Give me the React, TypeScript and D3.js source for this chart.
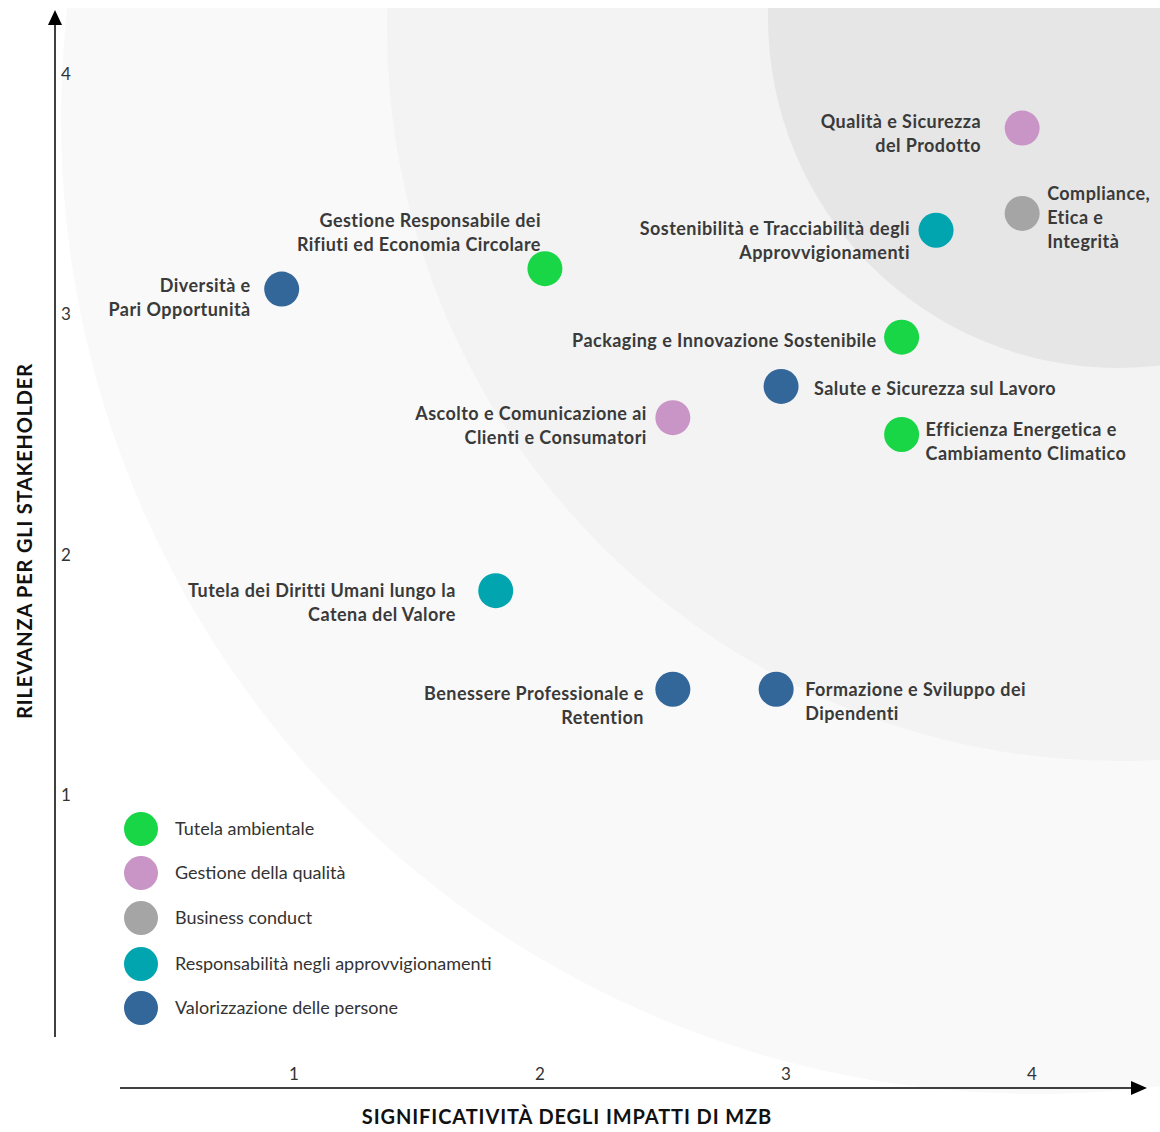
import React from "react";
import * as d3 from "d3";

// ---- data ----
const categories = [
  "Tutela ambientale",
  "Gestione della qualità",
  "Business conduct",
  "Responsabilità negli approvvigionamenti",
  "Valorizzazione delle persone",
];
const categoryColors = ["#19d646", "#c994c6", "#a5a5a5", "#00a5b0", "#336699"];

const topicNames = [
  ["Qualità e Sicurezza", "del Prodotto"],
  ["Compliance,", "Etica e", "Integrità"],
  ["Sostenibilità e Tracciabilità degli", "Approvvigionamenti"],
  ["Gestione Responsabile dei", "Rifiuti ed Economia Circolare"],
  ["Diversità e", "Pari Opportunità"],
  ["Packaging e Innovazione Sostenibile"],
  ["Salute e Sicurezza sul Lavoro"],
  ["Ascolto e Comunicazione ai", "Clienti e Consumatori"],
  ["Efficienza Energetica e", "Cambiamento Climatico"],
  ["Tutela dei Diritti Umani lungo la", "Catena del Valore"],
  ["Benessere Professionale e", "Retention"],
  ["Formazione e Sviluppo dei", "Dipendenti"],
];
const topicCategory = [1, 2, 3, 0, 4, 0, 4, 1, 0, 3, 4, 4];
const impactValues = [3.96, 3.96, 3.61, 2.02, 0.95, 3.47, 2.98, 2.54, 3.47, 1.82, 2.54, 2.96];
const stakeholderValues = [3.775, 3.42, 3.35, 3.19, 3.105, 2.905, 2.7, 2.57, 2.5, 1.85, 1.44, 1.44];

const xTicks = [1, 2, 3, 4];
const yTicks = [1, 2, 3, 4];

const xTitle = "SIGNIFICATIVITÀ DEGLI IMPATTI DI MZB";
const yTitle = "RILEVANZA PER GLI STAKEHOLDER";

// ---- layout (label placement relative to the dot) ----
const labelSide = ["L", "R", "L", "L", "L", "L", "R", "L", "R", "L", "L", "R"];
const labelDx = [-41, 25, -26, -4, -31, -25, 33, -26, 24, -40, -29, 29];
const labelDy = [-6, -20, -2, -48, -3, 4, 2, -4, -5, 0, 4, 0];

const W = 1160;
const H = 1132;
const FONT = "Lato, 'Open Sans', sans-serif";
const LINE = 24;

export default function App() {
  const x = d3.scaleLinear().domain([0, 4]).range([48, 1032]);
  const y = d3.scaleLinear().domain([0, 4]).range([1035.3, 74]);

  const zones = [
    { cx: 1036, cy: 119, r: 975, fill: "#f9f9f9" },
    { cx: 1120, cy: 28, r: 733, fill: "#f3f3f3" },
    { cx: 1118, cy: 18, r: 350, fill: "#e6e6e6" },
  ];

  const yAxisX = 55;
  const xAxisY = 1088;

  return (
    <svg
      width={W}
      height={H}
      style={{ position: "absolute", left: 0, top: 0, background: "#fff" }}
      fontFamily={FONT}
    >
      <defs>
        <clipPath id="bgclip">
          <rect x={0} y={8} width={W} height={H - 8} />
        </clipPath>
      </defs>
      <g clipPath="url(#bgclip)">
        {zones.map((z, i) => (
          <circle key={i} cx={z.cx} cy={z.cy} r={z.r} fill={z.fill} />
        ))}
      </g>

      {/* Y axis */}
      <line x1={yAxisX} x2={yAxisX} y1={22} y2={1037} stroke="#000" strokeWidth={1.5} />
      <path d={`M${yAxisX - 7},25 L${yAxisX},10 L${yAxisX + 7},25 Z`} fill="#000" />
      {/* X axis */}
      <line x1={120} x2={1134} y1={xAxisY} y2={xAxisY} stroke="#000" strokeWidth={1.5} />
      <path d={`M1131,${xAxisY - 7} L1147,${xAxisY} L1131,${xAxisY + 7} Z`} fill="#000" />

      {yTicks.map((t) => (
        <text key={"y" + t} x={61} y={y(t)} dy="0.35em" fontSize={17} fill="#333">
          {t}
        </text>
      ))}
      {xTicks.map((t) => (
        <text key={"x" + t} x={x(t)} y={1074} dy="0.35em" fontSize={17} fill="#333" textAnchor="middle">
          {t}
        </text>
      ))}

      <text
        x={567}
        y={1117}
        dy="0.35em"
        textAnchor="middle"
        fontWeight="bold"
        fontSize={20}
        letterSpacing={0.9}
        fill="#111"
      >
        {xTitle}
      </text>
      <text
        transform={`translate(25,541) rotate(-90)`}
        dy="0.35em"
        textAnchor="middle"
        fontWeight="bold"
        fontSize={20}
        letterSpacing={0.8}
        fill="#111"
      >
        {yTitle}
      </text>

      {/* points */}
      {topicNames.map((lines, i) => {
        const cx = x(impactValues[i]);
        const cy = y(stakeholderValues[i]);
        const side = labelSide[i];
        const anchor = side === "R" ? "start" : "end";
        const tx = cx + labelDx[i];
        const ty0 = cy + labelDy[i];
        return (
          <g key={i}>
            <circle cx={cx} cy={cy} r={17.5} fill={categoryColors[topicCategory[i]]} />
            <text textAnchor={anchor} fontSize={18} letterSpacing={0.45} fontWeight="bold" fill="#3a3a3a">
              {lines.map((l, j) => (
                <tspan key={j} x={tx} y={ty0 + j * LINE} dy="0.35em">
                  {l}
                </tspan>
              ))}
            </text>
          </g>
        );
      })}

      {/* legend */}
      {categories.map((c, i) => {
        const ly = [829, 873, 918, 964, 1008][i];
        return (
          <g key={c}>
            <circle cx={141} cy={ly} r={17} fill={categoryColors[i]} />
            <text x={175} y={ly} dy="0.35em" fontSize={18} fill="#333">
              {c}
            </text>
          </g>
        );
      })}
    </svg>
  );
}
